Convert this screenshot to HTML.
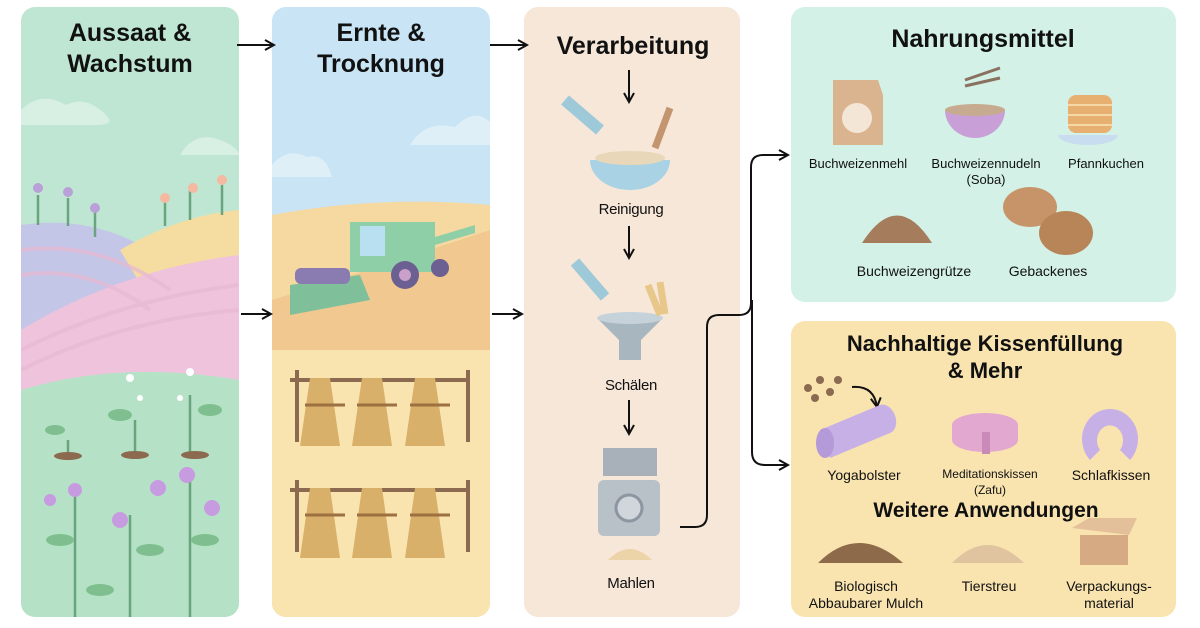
<!DOCTYPE html>
<html><head><meta charset="utf-8"><style>
html,body{margin:0;padding:0;background:#fff}
svg{display:block}
text{font-family:"Liberation Sans",sans-serif;fill:#111}
.t{font-weight:bold;font-size:25px}
.l{font-size:15px;letter-spacing:-0.3px}
</style></head><body>
<svg width="1200" height="628" viewBox="0 0 1200 628" xmlns="http://www.w3.org/2000/svg">
<defs>
<clipPath id="c1"><rect x="21" y="7" width="218" height="610" rx="14"/></clipPath>
<clipPath id="c2"><rect x="272" y="7" width="218" height="610" rx="14"/></clipPath>
<marker id="ar" markerWidth="12" markerHeight="12" refX="10" refY="6" orient="auto" markerUnits="userSpaceOnUse"><path d="M1,1 L10,6 L1,11" fill="none" stroke="#111" stroke-width="2"/></marker>
</defs>
<!-- Panel 1 -->
<g clip-path="url(#c1)">
<rect x="21" y="7" width="218" height="610" fill="#bfe6d2"/>
<path d="M21,110 q20,-20 45,-5 q20,-10 40,10 q10,10 -10,10 h-75z" fill="#d8efe4"/>
<path d="M180,155 q15,-25 40,-15 q15,5 20,15z" fill="#d8efe4"/>
<path d="M21,225 Q120,210 200,290 L239,330 L21,330z" fill="#c4c6e8"/>
<path d="M120,250 Q180,215 239,210 L239,300 L150,300z" fill="#f5dca0"/>
<path d="M21,330 Q120,270 239,255 L239,380 Q120,360 21,390z" fill="#efc3dc"/>
<path d="M21,390 Q120,360 239,380 L239,617 L21,617z" fill="#b5e2c6"/>
<g stroke="#e8b8d2" stroke-width="4" fill="none" opacity=".7"><path d="M21,350 Q120,300 239,285"/><path d="M21,370 Q120,320 239,310"/><path d="M21,250 Q100,240 170,290"/><path d="M21,275 Q90,265 150,310"/></g>
<g stroke="#6aa47f" stroke-width="2.5" fill="none"><path d="M38,195v30M68,198v28M95,212v25M165,198v28M190,190v30M222,185v30"/><path d="M68,440v20M135,420v35M190,395v60M75,490v127M130,515v102M190,475v142"/></g>
<g fill="#b9a0d8"><circle cx="38" cy="188" r="5"/><circle cx="68" cy="192" r="5"/><circle cx="95" cy="208" r="5"/></g>
<g fill="#f4b9a0"><circle cx="165" cy="198" r="5"/><circle cx="193" cy="188" r="5"/><circle cx="222" cy="180" r="5"/></g>
<g fill="#7fbf8f"><ellipse cx="55" cy="430" rx="10" ry="5"/><ellipse cx="120" cy="415" rx="12" ry="6"/><ellipse cx="210" cy="410" rx="12" ry="6"/><ellipse cx="60" cy="540" rx="14" ry="6"/><ellipse cx="150" cy="550" rx="14" ry="6"/><ellipse cx="205" cy="540" rx="14" ry="6"/><ellipse cx="100" cy="590" rx="14" ry="6"/></g>
<g fill="#8b6a4f"><ellipse cx="68" cy="456" rx="14" ry="4"/><ellipse cx="135" cy="455" rx="14" ry="4"/><ellipse cx="195" cy="455" rx="14" ry="4"/></g>
<g fill="#c79be0"><circle cx="75" cy="490" r="7"/><circle cx="120" cy="520" r="8"/><circle cx="158" cy="488" r="8"/><circle cx="187" cy="475" r="8"/><circle cx="212" cy="508" r="8"/><circle cx="50" cy="500" r="6"/></g>
<g fill="#fff"><circle cx="130" cy="378" r="4"/><circle cx="190" cy="372" r="4"/><circle cx="140" cy="398" r="3"/><circle cx="180" cy="398" r="3"/></g>
</g>
<text class="t" x="130" y="41" text-anchor="middle">Aussaat &amp;</text>
<text class="t" x="130" y="72" text-anchor="middle">Wachstum</text>
<!-- Panel 2 -->
<g clip-path="url(#c2)">
<rect x="272" y="7" width="218" height="610" fill="#c8e4f5"/>
<path d="M410,145 q15,-25 45,-18 q20,-20 35,-5 v23z" fill="#deeff8"/>
<path d="M272,165 q15,-18 35,-8 q18,-5 25,20 h-60z" fill="#deeff8"/>
<path d="M272,215 Q380,195 490,205 L490,617 L272,617z" fill="#f5d9a0"/>
<path d="M272,300 Q400,260 490,230 L490,360 L272,360z" fill="#f0c890"/>
<rect x="272" y="350" width="218" height="267" fill="#f9e4b0"/>
<rect x="350" y="222" width="85" height="50" fill="#8fcfa8"/>
<rect x="360" y="226" width="25" height="30" fill="#b8e0f0"/>
<path d="M425,240 l50,-15 v8 l-50,15z" fill="#8fcfa8"/>
<path d="M290,285 l70,-10 l10,25 l-80,15z" fill="#7fc09a"/>
<rect x="295" y="268" width="55" height="16" rx="6" fill="#8a7bb0"/>
<circle cx="405" cy="275" r="14" fill="#6c5f91"/><circle cx="405" cy="275" r="6" fill="#c9a0c8"/>
<circle cx="440" cy="268" r="9" fill="#6c5f91"/>
<g stroke="#8b6a4f" stroke-width="4" fill="none"><path d="M290,380h180M290,490h180M297,370v72M468,370v72M297,480v72M468,480v72"/></g>
<g fill="#d9b06a"><path d="M310,378 l20,0 l10,68 l-40,0z"/><path d="M362,378 l20,0 l10,68 l-40,0z"/><path d="M415,378 l20,0 l10,68 l-40,0z"/><path d="M310,488 l20,0 l10,70 l-40,0z"/><path d="M362,488 l20,0 l10,70 l-40,0z"/><path d="M415,488 l20,0 l10,70 l-40,0z"/></g>
<g stroke="#9c7040" stroke-width="3"><path d="M305,405h40M357,405h40M410,405h40M305,515h40M357,515h40M410,515h40"/></g>
</g>
<text class="t" x="381" y="41" text-anchor="middle">Ernte &amp;</text>
<text class="t" x="381" y="72" text-anchor="middle">Trocknung</text>
<!-- Panel 3 -->
<rect x="524" y="7" width="216" height="610" rx="14" fill="#f6e7d8"/>
<text class="t" x="633" y="54" text-anchor="middle">Verarbeitung</text>
<path d="M629,70v32" stroke="#111" stroke-width="2" marker-end="url(#ar)"/>
<path d="M590,160 h80 a40,30 0 0 1 -80,0z" fill="#a9d3e4"/>
<ellipse cx="630" cy="158" rx="35" ry="7" fill="#e8d7b8"/>
<path d="M565,100 l35,30" stroke="#9ec9d8" stroke-width="12"/>
<path d="M655,148 l15,-40" stroke="#c49670" stroke-width="7"/>
<text x="631" y="214" text-anchor="middle" class="l">Reinigung</text>
<path d="M629,226v32" stroke="#111" stroke-width="2" marker-end="url(#ar)"/>
<path d="M597,318 h66 l-22,22 v20 h-22 v-20z" fill="#a8b6c0"/>
<ellipse cx="630" cy="318" rx="33" ry="6" fill="#c6d2da"/>
<path d="M575,262 l30,35" stroke="#9ec9d8" stroke-width="11"/>
<path d="M648,285 l12,30 M660,282 l5,32" stroke="#e8c88a" stroke-width="7"/>
<text x="631" y="390" text-anchor="middle" class="l">Schälen</text>
<path d="M629,400v34" stroke="#111" stroke-width="2" marker-end="url(#ar)"/>
<rect x="603" y="448" width="54" height="28" fill="#a8b0ba"/>
<rect x="598" y="480" width="62" height="56" rx="6" fill="#b8c0c8"/>
<circle cx="629" cy="508" r="13" fill="#d0d6dc" stroke="#8d96a0" stroke-width="3"/>
<path d="M608,560 q22,-22 44,0z" fill="#ecd3a8"/>
<text x="631" y="588" text-anchor="middle" class="l">Mahlen</text>
<!-- connectors -->
<path d="M237,45h37" stroke="#111" stroke-width="2" fill="none" marker-end="url(#ar)"/>
<path d="M241,314h30" stroke="#111" stroke-width="2" fill="none" marker-end="url(#ar)"/>
<path d="M490,45h37" stroke="#111" stroke-width="2" fill="none" marker-end="url(#ar)"/>
<path d="M492,314h30" stroke="#111" stroke-width="2" fill="none" marker-end="url(#ar)"/>
<path d="M680,527 h15 q12,0 12,-12 v-188 q0,-12 12,-12 h20 q12,0 12,-12 v-136 q0,-12 12,-12 h25" stroke="#111" stroke-width="2" fill="none" marker-end="url(#ar)"/>
<path d="M752,300 v152 q0,13 13,13 h23" stroke="#111" stroke-width="2" fill="none" marker-end="url(#ar)"/>
<!-- Nahrungsmittel -->
<rect x="791" y="7" width="385" height="295" rx="14" fill="#d3f1e6"/>
<text class="t" x="983" y="47" text-anchor="middle">Nahrungsmittel</text>
<path d="M833,80 h45 l5,15 v50 h-50z" fill="#d9b48f"/>
<circle cx="857" cy="118" r="15" fill="#f4e6d6"/>
<path d="M945,110 h60 a30,28 0 0 1 -60,0z" fill="#c99fd8"/>
<ellipse cx="975" cy="110" rx="30" ry="6" fill="#c7ab90"/>
<path d="M965,80 l35,-12 M965,86 l35,-8" stroke="#8a7060" stroke-width="3"/>
<path d="M1058,135 a30,10 0 0 0 60,0" fill="#c9ddf0"/>
<rect x="1068" y="95" width="44" height="38" rx="8" fill="#e8b070"/>
<g stroke="#f6d8a8" stroke-width="2"><path d="M1068,105h44M1068,115h44M1068,125h44"/></g>
<text x="858" y="168" text-anchor="middle" style="font-size:13px">Buchweizenmehl</text>
<text x="986" y="168" text-anchor="middle" style="font-size:13px">Buchweizennudeln</text>
<text x="986" y="184" text-anchor="middle" style="font-size:13px">(Soba)</text>
<text x="1106" y="168" text-anchor="middle" style="font-size:13px">Pfannkuchen</text>
<path d="M862,243 q35,-55 70,0z" fill="#a57d5c"/>
<ellipse cx="1030" cy="207" rx="27" ry="20" fill="#c7946a"/>
<ellipse cx="1066" cy="233" rx="27" ry="22" fill="#b88558"/>
<text x="914" y="276" text-anchor="middle" style="font-size:14px">Buchweizengrütze</text>
<text x="1048" y="276" text-anchor="middle" style="font-size:14px">Gebackenes</text>
<!-- Kissen -->
<rect x="791" y="321" width="385" height="296" rx="14" fill="#f9e4b0"/>
<text x="985" y="351" text-anchor="middle" style="font-weight:bold;font-size:22px">Nachhaltige Kissenfüllung</text>
<text x="985" y="378" text-anchor="middle" style="font-weight:bold;font-size:22px">&amp; Mehr</text>
<g fill="#8a6a50"><circle cx="808" cy="388" r="4"/><circle cx="820" cy="380" r="4"/><circle cx="830" cy="392" r="4"/><circle cx="815" cy="398" r="4"/><circle cx="838" cy="380" r="4"/></g>
<path d="M852,387 q22,-2 25,20" stroke="#111" stroke-width="2" fill="none" marker-end="url(#ar)"/>
<path d="M820,430 l60,-25 a10,14 -20 0 1 10,28 l-60,25z" fill="#c7b0e6"/>
<ellipse cx="825" cy="443" rx="9" ry="15" fill="#b49ad8"/>
<path d="M952,425 a33,12 0 0 1 66,0 v15 a33,12 0 0 1 -66,0z" fill="#e2a8d0"/>
<rect x="982" y="432" width="8" height="22" fill="#c98ab8"/>
<path d="M1090,460 a28,30 0 1 1 40,0 l-10,-10 a13,15 0 1 0 -20,0z" fill="#c7b0e6"/>
<text x="864" y="480" text-anchor="middle" style="font-size:14px">Yogabolster</text>
<text x="990" y="478" text-anchor="middle" style="font-size:12px">Meditationskissen</text>
<text x="990" y="494" text-anchor="middle" style="font-size:12px">(Zafu)</text>
<text x="1111" y="480" text-anchor="middle" style="font-size:14px">Schlafkissen</text>
<text x="986" y="517" text-anchor="middle" style="font-weight:bold;font-size:21px">Weitere Anwendungen</text>
<path d="M818,563 q40,-40 85,0z" fill="#8d6a4a"/>
<path d="M952,563 q35,-36 72,0z" fill="#e0c4a0"/>
<path d="M1080,535 h48 v30 h-48z" fill="#d6aa82"/><path d="M1072,528 l17,-10 h48 l-8,17z" fill="#e4c09a"/>
<text x="866" y="591" text-anchor="middle" style="font-size:14px">Biologisch</text>
<text x="866" y="608" text-anchor="middle" style="font-size:14px">Abbaubarer Mulch</text>
<text x="989" y="591" text-anchor="middle" style="font-size:14px">Tierstreu</text>
<text x="1109" y="591" text-anchor="middle" style="font-size:14px">Verpackungs-</text>
<text x="1109" y="608" text-anchor="middle" style="font-size:14px">material</text>
</svg>
</body></html>
